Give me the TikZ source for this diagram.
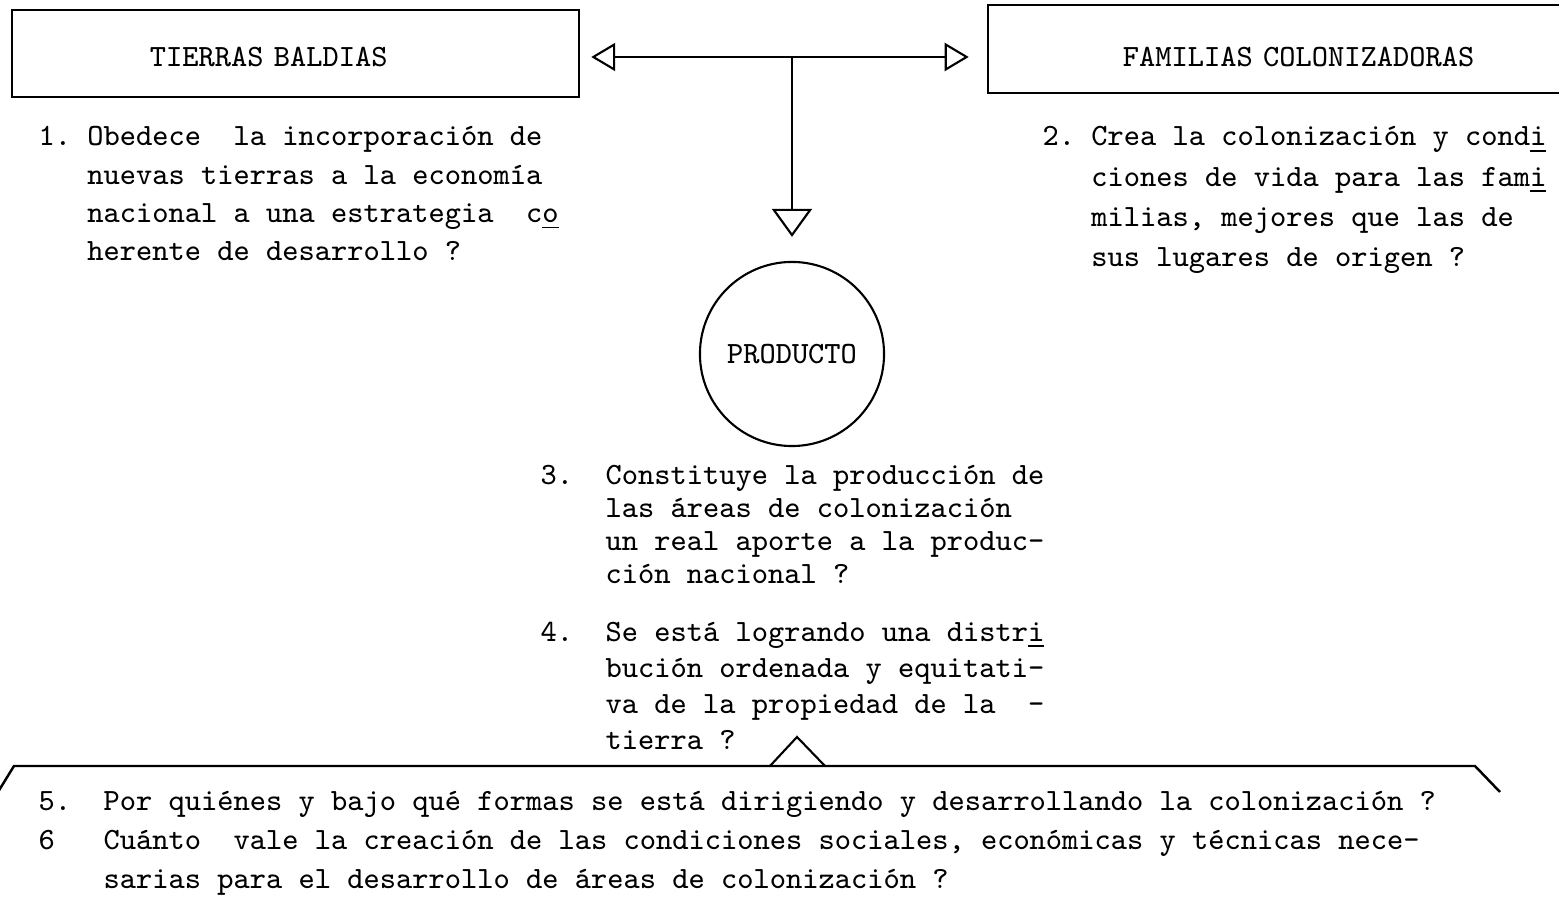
\documentclass[tikz,border=0pt]{standalone}
\usepackage{fontspec}
\usetikzlibrary{arrows.meta}

\begin{document}
\begin{tikzpicture}[x=0.01cm,y=-0.01cm,
  every node/.style={font=\ttfamily\fontsize{8.8}{11}\selectfont},
  hbox/.style={draw,line width=0.6pt,minimum height=0.87cm,inner xsep=0pt,text width=#1,align=left,text depth=0pt},
  qtext/.style={anchor=north west,inner sep=0pt,align=left},
  toside/.style={-{Triangle[open,length=0.24cm,width=0.28cm]},line width=0.6pt},
  todown/.style={-{Triangle[open,length=0.28cm,width=0.4cm]},line width=0.6pt}]
\useasboundingbox (0,0) rectangle (1559,913);
\clip (0,0) rectangle (1559,913);

% the two boxes on top
\node[hbox=5.67cm,text height=0.26cm] (tb) at (295.5,53.5) {\hspace*{1.38cm}TIERRAS BALDIAS};
\node[hbox=6.32cm,minimum height=0.88cm,text height=0.35cm] (fc) at (1304,49) {\hspace*{1.35cm}FAMILIAS COLONIZADORAS};

% the circle
\node[draw,circle,line width=0.6pt,minimum size=1.84cm,inner sep=0pt] (prod) at (792,354) {PRODUCTO};

% arrows from the junction
\coordinate (hub) at (792,57);
\draw[toside,shorten >=0.11cm] (hub) -- (tb.east |- hub);
\draw[toside,shorten >=0.18cm] (hub) -- (fc.west |- hub);
\draw[todown,shorten >=0.24cm] (hub) -- (prod.north);

% questions
\node[qtext,font=\ttfamily\fontsize{8.8}{10.9}\selectfont] (q1) at (38,126)
  {1.~Obedece~~la incorporación de\\
   \phantom{1.~}nuevas tierras a la economía\\
   \phantom{1.~}nacional a una estrategia~~c\underline{o}\\
   \phantom{1.~}herente de desarrollo ?};
\node[qtext,font=\ttfamily\fontsize{8.8}{11.4}\selectfont] (q2) at (1042,126)
  {2.~Crea la colonización y cond\underline{i}\\
   \phantom{2.~}ciones de vida para las fam\underline{i}\\
   \phantom{2.~}milias, mejores que las de\\
   \phantom{2.~}sus lugares de origen ?};
\node[qtext,font=\ttfamily\fontsize{8.8}{9.3}\selectfont] (q3) at (540,465)
  {3.~~Constituye la producción de\\
   \phantom{3.~~}las áreas de colonización\\
   \phantom{3.~~}un real aporte a la produc-\\
   \phantom{3.~~}ción nacional ?};
\node[qtext,font=\ttfamily\fontsize{8.8}{10.3}\selectfont] (q4) at (540,621)
  {4.~~Se está logrando una distr\underline{i}\\
   \phantom{4.~~}bución ordenada y equitati-\\
   \phantom{4.~~}va de la propiedad de la~~-\\
   \phantom{4.~~}tierra ?};

% bracket at the bottom
\coordinate (bl) at (14,766);
\coordinate (br) at (1475,766);
\draw[line width=0.7pt] (bl) ++(-16,26) -- (bl) -- (br) -- ++(25,26);
\draw[line width=0.6pt] (770,766) -- (797,737) -- (825,766);

\node[qtext] (q5) at (38,791)
  {5.~~Por quiénes y bajo qué formas se está dirigiendo y desarrollando la colonización ?};
\node[qtext,font=\ttfamily\fontsize{8.8}{10.9}\selectfont] (q6) at (38,830)
  {6~~~Cuánto~~vale la creación de las condiciones sociales, económicas y técnicas nece-\\
   \phantom{6~~~}sarias para el desarrollo de áreas de colonización ?};
\end{tikzpicture}
\end{document}
